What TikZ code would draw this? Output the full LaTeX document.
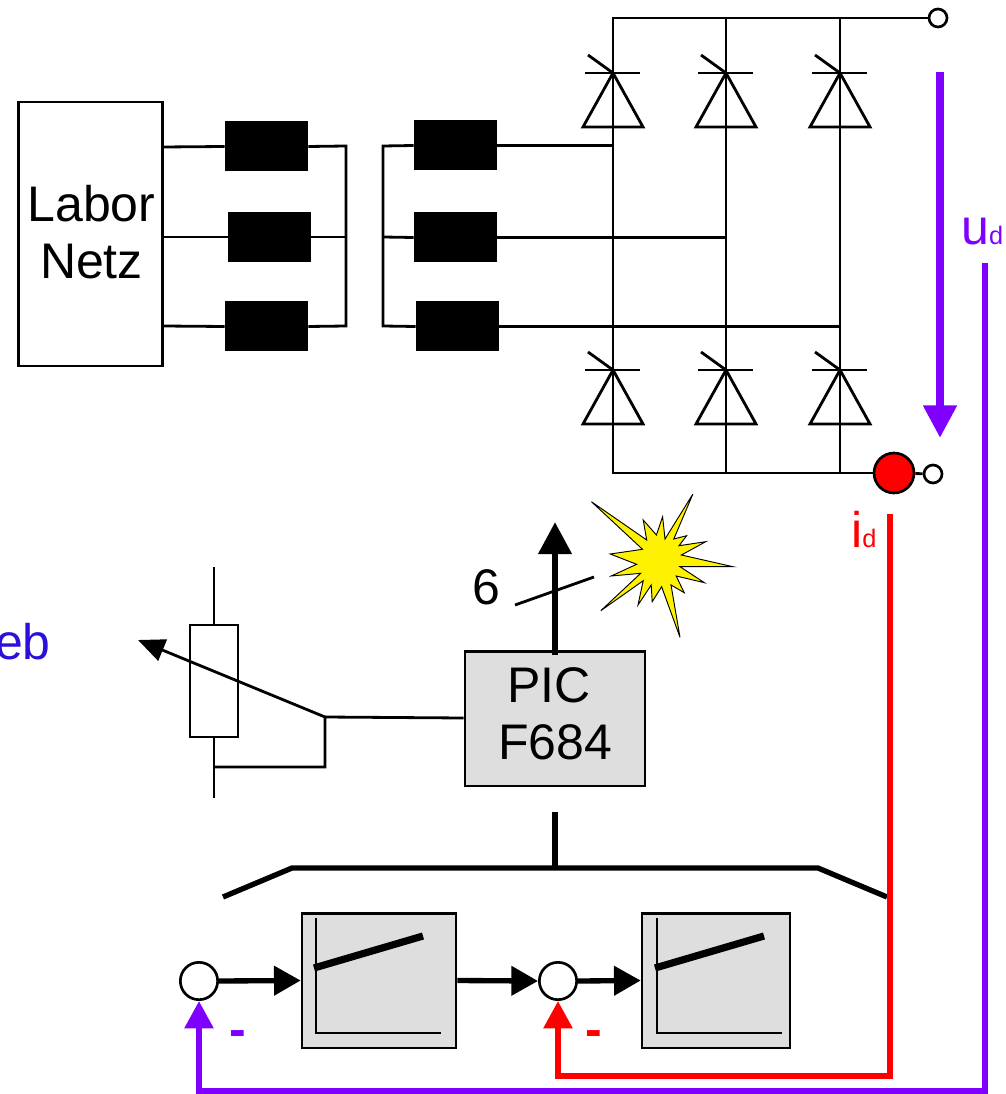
\documentclass[tikz,border=0pt]{standalone}
\usepackage{fontspec}
\setmainfont{Liberation Sans}
\usetikzlibrary{arrows.meta}
\definecolor{ulila}{HTML}{7F00FF}
\definecolor{ublau}{HTML}{2A10D8}
\definecolor{kasten}{HTML}{DEDEDE}
\tikzset{
  wire/.style={line width=2.1pt,line join=miter},
  fatwire/.style={line width=4pt},
  choke/.style={fill=black,minimum width=62.5pt,minimum height=37.5pt,inner sep=0pt},
  term/.style={circle,draw=black,line width=2pt,fill=white,minimum size=13.5pt,inner sep=0pt},
  sumpoint/.style={circle,draw=black,line width=2pt,fill=white,minimum size=28pt,inner sep=0pt},
  ctrlbox/.style={draw=black,line width=2pt,fill=kasten,inner sep=0pt},
  bigtext/.style={font=\fontsize{37.5}{43}\selectfont,inner sep=0pt,align=center},
  sigarrow/.style={-{Triangle[length=20pt,width=21.5pt]},line width=4pt},
  fbarrow/.style={line width=4.2pt,line join=miter,-{Triangle[length=20.5pt,width=21pt]}},
  thyristor/.pic={
    \draw[wire] (-30,54) -- (30,54) -- (0,0) -- cycle;
    \draw[wire] (-28,0) -- (27,0);
    \draw[wire] (-25,-18) -- (0,0);
  },
  ctrlcurve/.pic={
    \draw[line width=2.2pt] (0,-63) -- (0,52) -- (125,52);
    \draw[line width=5.4pt] (-2,-13) -- (107,-45);
  }
}
\begin{document}
\begin{tikzpicture}[x=0.75pt,y=-0.75pt]
\useasboundingbox (0,0) rectangle (1005,1094);
% Netz und Drosseln
\node (netz) [draw=black,line width=2pt,minimum width=108pt,minimum height=198pt,inner sep=0pt,
  label={[bigtext,yshift=1.5pt,xshift=0.7pt]center:Labor\\Netz}] at (90.5,234) {};
\node (la1) [choke] at (266.5,146.5) {};
\node (la2) [choke] at (269.5,237) {};
\node (la3) [choke] at (266.5,326.5) {};
\node (lb1) [choke] at (455.5,145.5) {};
\node (lb2) [choke] at (455.5,237.5) {};
\node (lb3) [choke] at (457.5,326.5) {};
\coordinate (sa) at (346,146);
\coordinate (sb) at (346,326);
\coordinate (sc) at (383,146);
\coordinate (sd) at (383,326);
\draw[wire] (163,147) -- (la1.west);
\draw[wire] (163,237) -- (la2.west);
\draw[wire] (163,326) -- (la3.west);
\draw[wire] (la1.east) -- (sa) -- (sb) -- (la3.east);
\draw[wire] (la2.east) -- (346,237);
\draw[wire] (lb1.west) -- (sc) -- (sd) -- (lb3.west);
\draw[wire] (lb2.west) -- (383,237);
% Brücke
\node (top) [term] at (938,18) {};
\node (shunt) [circle,draw=black,line width=2pt,fill=red,minimum size=30pt,inner sep=0pt] at (894,473) {};
\node (bot) [term] at (933,474) {};
\coordinate (r1) at (613,18);
\coordinate (r2) at (613,473);
\draw[wire] (top) -- (r1) -- (r2) -- (shunt);
\draw[wire] (shunt) -- (bot);
\draw[wire] (726,18) -- (726,473);
\draw[wire] (840,18) -- (840,473);
\draw[wire] (lb1.east) -- (613,145.5);
\draw[wire] (lb2.east) -- (726,237.5);
\draw[wire] (lb3.east) -- (840,326.5);
\foreach \x in {613,726,840} {
  \pic at (\x,73) {thyristor};
  \pic at (\x,370) {thyristor};
}
% Messgrößen
\coordinate (ud1) at (940,72);
\coordinate (ud2) at (940,438);
\draw[ulila,-{Triangle[length=24.5pt,width=24pt]},line width=6pt] (ud1) -- (ud2);
\node (udlabel) [text=ulila,anchor=base west,inner sep=0pt,font=\fontsize{37.5}{43}\selectfont] at (961,245) {u{\fontsize{19}{19}\selectfont d}};
\node (idlabel) [text=red,anchor=base west,inner sep=0pt,font=\fontsize{37.5}{43}\selectfont] at (851,547) {i{\fontsize{19}{19}\selectfont d}};
% Zündimpulse
\node (pic) [ctrlbox,minimum width=135pt,minimum height=101pt,
  label={[bigtext,yshift=3.5pt]center:PIC\kern9pt\\F684}] at (555,718.5) {};
\coordinate (tip6) at (555,522);
\draw[-{Triangle[length=24pt,width=24pt]},line width=5.2pt] (555,655) -- (tip6);
\coordinate (sl1) at (515,605);
\coordinate (sl2) at (594,577);
\draw[wire] (sl1) -- (sl2);
\node (six) [bigtext] at (486,587) {6};
\draw[line width=0.7pt,fill=yellow,line join=miter] (591.4,501.7) -- (646.7,540) -- (643.2,520) -- (656.4,535) -- (662.6,516.7) -- (665,539)
  -- (692.9,494) -- (673.8,539) -- (686.6,535.7) -- (679,545.7) -- (705.7,541.7) -- (681.4,555) -- (733,566.7) -- (680,566.7)
  -- (704.4,582.7) -- (676.2,576) -- (684.2,592.7) -- (671,585) -- (680,637.3) -- (661.6,586.7) -- (652.2,601.7) -- (651.2,585)
  -- (638,605) -- (643.2,580.7) -- (600.8,610.7) -- (640.7,573.3) -- (611.2,576) -- (636.6,564.3) -- (610.2,554) -- (642.5,549.3) -- cycle;
% Poti
\node (poti) [draw=black,line width=2pt,minimum width=36pt,minimum height=84pt,inner sep=0pt] at (214,681) {};
\coordinate (pa) at (214,567);
\coordinate (pb) at (214,798);
\coordinate (pk) at (325,717);
\coordinate (pl) at (325,767);
\coordinate (pm) at (214,767);
\coordinate (pt) at (138,640);
\draw[wire] (pa) -- (poti.north);
\draw[wire] (poti.south) -- (pb);
\draw[wire] (pic.west |- 0,718) -- (pk) -- (pl) -- (pm);
\draw[wire,-{Triangle[length=20pt,width=17pt]}] (pk) -- (pt);
\node (eb) [text=ublau,anchor=base east,inner sep=0pt,font=\fontsize{37.5}{43}\selectfont] at (51,659) {eb};
% Bus
\coordinate (ba) at (555,812);
\coordinate (bb) at (555,868);
\draw[fatwire] (ba) -- (bb);
\draw[fatwire,line join=round] (223,897) -- (292,868) -- (818,868) -- (887,897);
% Regler
\node (sum1) [sumpoint] at (199,981) {};
\node (reg1) [ctrlbox,minimum width=115.5pt,minimum height=101pt] at (379,980.5) {};
\node (sum2) [sumpoint] at (558,981) {};
\node (reg2) [ctrlbox,minimum width=111pt,minimum height=101pt] at (716,980.5) {};
\pic at (316,981) {ctrlcurve};
\pic at (657,981) {ctrlcurve};
\draw[sigarrow] (sum1.east) -- (reg1.west);
\draw[sigarrow] (reg1.east) -- (sum2.west);
\draw[sigarrow] (sum2.east) -- (reg2.west);
% Rückführung
\coordinate (ia) at (890,514);
\coordinate (ib) at (890,1076);
\coordinate (ic) at (558,1076);
\draw[red,fbarrow] (ia) -- (ib) -- (ic) -- (sum2.south);
\coordinate (ua) at (985,263);
\coordinate (ub) at (985,1091);
\coordinate (uc) at (199,1091);
\draw[ulila,fbarrow] (ua) -- (ub) -- (uc) -- (sum1.south);
\node (minus1) [text=ulila,inner sep=0pt,font=\fontsize{37.5}{43}\selectfont\bfseries] at (238,1039) {-};
\node (minus2) [text=red,inner sep=0pt,font=\fontsize{37.5}{43}\selectfont\bfseries] at (594,1039) {-};
\end{tikzpicture}
\end{document}
